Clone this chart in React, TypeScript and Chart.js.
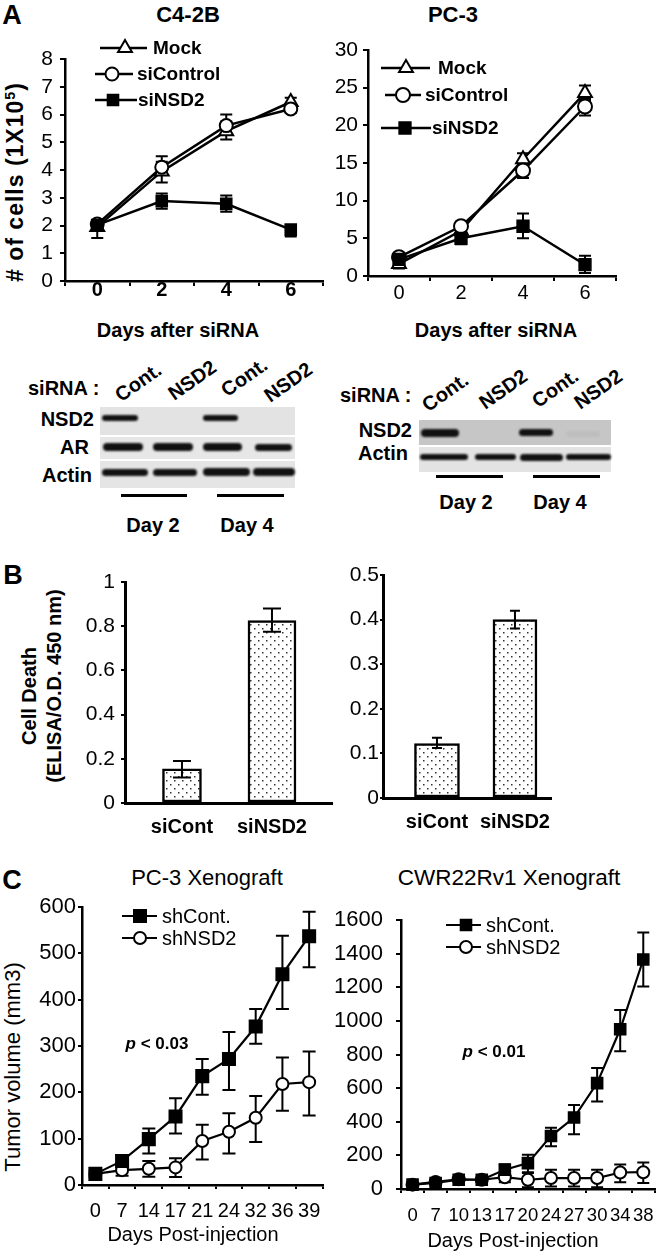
import React, { useEffect, useRef } from 'react';
import { Chart, registerables } from 'chart.js';

Chart.register(...registerables);

const FONT = '"Liberation Sans", Arial, Helvetica, sans-serif';
const BLACK = '#000';

// ================= DATA =================
// Panel A – cell number after siRNA (x 10^5 cells for C4-2B)
const daysA = ['0', '2', '4', '6'];
const c42bMock = [1.95, 3.95, 5.4, 6.45];
const c42bMockErr = [[1.55, 2.2], [3.55, 4.3], [5.1, 5.75], [6.3, 6.6]];
const c42bSiControl = [2.05, 4.1, 5.6, 6.2];
const c42bSiControlErr = [[1.85, 2.2], [3.85, 4.5], [5.3, 6.0], [6.05, 6.35]];
const c42bSiNSD2 = [2.02, 2.88, 2.78, 1.85];
const c42bSiNSD2Err = [[1.85, 2.2], [2.6, 3.15], [2.5, 3.08], [1.6, 2.0]];

const pc3Mock = [1.6, 6.0, 15.5, 24.3];
const pc3MockErr = [[1.0, 2.2], [5.5, 6.5], [14.5, 16.3], [23.3, 25.3]];
const pc3SiControl = [2.5, 6.6, 14.0, 22.5];
const pc3SiControlErr = [[2.0, 3.0], [6.0, 7.2], [13.0, 15.0], [21.3, 23.5]];
const pc3SiNSD2 = [2.2, 5.0, 6.6, 1.5];
const pc3SiNSD2Err = [[1.7, 2.7], [4.2, 5.8], [5.0, 8.3], [0.4, 2.7]];

// Panel B – cell death ELISA
const cellDeathLabels = ['siCont', 'siNSD2'];
const c42bDeath = [0.155, 0.825];
const c42bDeathErr = [[0.115, 0.19], [0.775, 0.88]];
const pc3Death = [0.122, 0.4];
const pc3DeathErr = [[0.112, 0.135], [0.38, 0.42]];

// Panel C – xenograft tumor volume (mm3)
const daysPC3 = ['0', '7', '14', '17', '21', '24', '32', '36', '39'];
const pc3ShCont = [24, 52, 99, 148, 235, 272, 342, 455, 537];
const pc3ShContErr = [[18, 30], [40, 64], [68, 122], [111, 187], [195, 272], [205, 330], [305, 380], [380, 538], [470, 590]];
const pc3ShNSD2 = [24, 32, 35, 38, 95, 115, 145, 218, 222];
const pc3ShNSD2Err = [[18, 30], [20, 45], [18, 52], [17, 58], [55, 130], [68, 155], [93, 192], [160, 275], [150, 288]];

const daysCWR = ['0', '7', '10', '13', '17', '20', '24', '27', '30', '34', '38'];
const cwrShCont = [26, 36, 55, 55, 115, 154, 315, 425, 630, 950, 1365];
const cwrShContErr = [[16, 36], [26, 46], [45, 65], [45, 65], [85, 145], [95, 204], [255, 365], [325, 500], [520, 720], [820, 1065], [1205, 1525]];
const cwrShNSD2 = [26, 42, 58, 55, 70, 55, 65, 65, 65, 98, 100];
const cwrShNSD2Err = [[16, 36], [32, 52], [48, 68], [45, 65], [40, 100], [10, 100], [15, 115], [15, 115], [10, 115], [40, 145], [35, 158]];

// ================= LAYOUT HELPERS =================
type Box = { x: number; y: number; w: number; h: number };
type Area = { l: number; t: number; r: number; b: number };
type LegendPos = { x1: number; x2: number; mx: number; tx: number; y: number };

const plainNumber = (v: any) => String(Math.round(Number(v) * 1000) / 1000);

function drawMarker(ctx: CanvasRenderingContext2D, style: string, x: number, y: number, r: number, fill: string, bw: number) {
  ctx.beginPath();
  if (style === 'circle') {
    ctx.arc(x, y, r, 0, Math.PI * 2);
  } else if (style === 'rect') {
    const s = r * Math.SQRT1_2;
    ctx.rect(x - s, y - s, 2 * s, 2 * s);
  } else if (style === 'triangle') {
    let rad = 0;
    ctx.moveTo(x + Math.sin(rad) * r, y - Math.cos(rad) * r);
    rad += (2 * Math.PI) / 3;
    ctx.lineTo(x + Math.sin(rad) * r, y - Math.cos(rad) * r);
    rad += (2 * Math.PI) / 3;
    ctx.lineTo(x + Math.sin(rad) * r, y - Math.cos(rad) * r);
  }
  ctx.closePath();
  ctx.fillStyle = fill;
  ctx.fill();
  ctx.lineWidth = bw;
  ctx.strokeStyle = BLACK;
  ctx.stroke();
}

function errorBarPlugin(capHalf: number, width: number, above: boolean) {
  const draw = (chart: any) => {
    const ctx = chart.ctx as CanvasRenderingContext2D;
    const ys = chart.scales.y;
    ctx.save();
    ctx.strokeStyle = BLACK;
    ctx.lineWidth = width;
    chart.data.datasets.forEach((ds: any, i: number) => {
      const meta = chart.getDatasetMeta(i);
      (ds.errors || []).forEach((e: number[], j: number) => {
        const el = meta.data[j];
        if (!el || !e) return;
        const x = el.x;
        const y1 = ys.getPixelForValue(e[0]);
        const y2 = ys.getPixelForValue(e[1]);
        ctx.beginPath();
        ctx.moveTo(x, y1);
        ctx.lineTo(x, y2);
        ctx.moveTo(x - capHalf, y1);
        ctx.lineTo(x + capHalf, y1);
        ctx.moveTo(x - capHalf, y2);
        ctx.lineTo(x + capHalf, y2);
        ctx.stroke();
      });
    });
    ctx.restore();
  };
  return above
    ? { id: 'errorBars', afterDatasetsDraw: draw }
    : { id: 'errorBars', beforeDatasetsDraw: draw };
}

function insideLegendPlugin(items: LegendPos[], font: string, ox: number, oy: number) {
  return {
    id: 'insideLegend',
    afterDraw(chart: any) {
      const ctx = chart.ctx as CanvasRenderingContext2D;
      chart.data.datasets.forEach((ds: any, i: number) => {
        const it = items[i];
        if (!it) return;
        const y = it.y - oy;
        ctx.save();
        ctx.strokeStyle = BLACK;
        ctx.lineWidth = ds.borderWidth;
        ctx.beginPath();
        ctx.moveTo(it.x1 - ox, y);
        ctx.lineTo(it.x2 - ox, y);
        ctx.stroke();
        drawMarker(ctx, ds.pointStyle, it.mx - ox, y, ds.pointRadius, ds.pointBackgroundColor, ds.pointBorderWidth);
        ctx.fillStyle = BLACK;
        ctx.font = font;
        ctx.textBaseline = 'middle';
        ctx.textAlign = 'left';
        ctx.fillText(ds.label, it.tx - ox, y + 1);
        ctx.restore();
      });
    },
  };
}

type SeriesSpec = { label: string; data: number[]; err: number[][]; style: string; radius: number; fill: string; order: number };

interface LineSpec {
  canvas: Box;
  area: Area;
  labels: string[];
  series: SeriesSpec[];
  y: { min: number; max: number; step: number };
  yFont: any;
  xFont: any;
  yTick: [number, number];
  xTick: [number, number];
  axisWidth: number;
  lineWidth: number;
  pointBorder: number;
  errWidth: number;
  capHalf: number;
  legend: LegendPos[];
  legendFont: string;
}

function makeLineConfig(p: LineSpec): any {
  const padTop = p.area.t - p.canvas.y;
  const padRight = p.canvas.x + p.canvas.w - p.area.r;
  const yWidth = p.area.l - p.canvas.x;
  const xHeight = p.canvas.y + p.canvas.h - p.area.b;
  return {
    type: 'line',
    data: {
      labels: p.labels,
      datasets: p.series.map((s) => ({
        label: s.label,
        data: s.data,
        errors: s.err,
        borderColor: BLACK,
        borderWidth: p.lineWidth,
        pointStyle: s.style,
        pointRadius: s.radius,
        pointHoverRadius: s.radius,
        pointBackgroundColor: s.fill,
        pointBorderColor: BLACK,
        pointBorderWidth: p.pointBorder,
        tension: 0,
        fill: false,
        order: s.order,
        clip: false,
      })),
    },
    options: {
      responsive: false,
      animation: false,
      events: [],
      layout: { padding: { top: padTop, right: padRight, left: 0, bottom: 0 } },
      plugins: { legend: { display: false }, tooltip: { enabled: false }, title: { display: false } },
      scales: {
        x: {
          type: 'category',
          offset: true,
          grid: { display: true, drawOnChartArea: false, drawTicks: true, offset: true, tickLength: p.xTick[0], color: BLACK, lineWidth: 2 },
          border: { display: true, color: BLACK, width: p.axisWidth },
          ticks: { color: BLACK, font: p.xFont, padding: p.xTick[1], maxRotation: 0, autoSkip: false },
          afterFit: (s: any) => {
            s.height = xHeight;
          },
        },
        y: {
          type: 'linear',
          min: p.y.min,
          max: p.y.max,
          grid: { display: true, drawOnChartArea: false, drawTicks: true, tickLength: p.yTick[0], color: BLACK, lineWidth: 2 },
          border: { display: true, color: BLACK, width: p.axisWidth },
          ticks: { color: BLACK, font: p.yFont, padding: p.yTick[1], stepSize: p.y.step, autoSkip: false, callback: plainNumber },
          afterFit: (s: any) => {
            s.width = yWidth;
          },
        },
      },
    },
    plugins: [errorBarPlugin(p.capHalf, p.errWidth, false), insideLegendPlugin(p.legend, p.legendFont, p.canvas.x, p.canvas.y)],
  };
}

function dotPattern(): CanvasPattern | string {
  const c = document.createElement('canvas');
  c.width = 8;
  c.height = 8;
  const g = c.getContext('2d');
  if (!g) return '#fff';
  g.fillStyle = '#fff';
  g.fillRect(0, 0, 8, 8);
  g.fillStyle = '#333';
  g.fillRect(2, 2, 1.5, 1.5);
  g.fillRect(6, 6, 1.5, 1.5);
  return g.createPattern(c, 'repeat') || '#fff';
}

interface BarSpec {
  canvas: Box;
  area: Area;
  labels: string[];
  values: number[];
  err: number[][];
  thickness: number[];
  xRange: [number, number];
  y: { min: number; max: number; step: number };
  yFont: any;
  xFont: any;
  yTick: [number, number];
  xPad: number;
  capHalf: number;
}

function makeBarConfig(p: BarSpec): any {
  const padTop = p.area.t - p.canvas.y;
  const padRight = p.canvas.x + p.canvas.w - p.area.r;
  const yWidth = p.area.l - p.canvas.x;
  const xHeight = p.canvas.y + p.canvas.h - p.area.b;
  const pattern = dotPattern();
  return {
    type: 'bar',
    data: {
      datasets: p.values.map((v, i) => ({
        label: p.labels[i],
        data: [{ x: i, y: v }],
        errors: [p.err[i]],
        barThickness: p.thickness[i],
        grouped: false,
        backgroundColor: pattern,
        borderColor: BLACK,
        borderWidth: 2.5,
        borderSkipped: false,
      })),
    },
    options: {
      responsive: false,
      animation: false,
      events: [],
      layout: { padding: { top: padTop, right: padRight, left: 0, bottom: 0 } },
      plugins: { legend: { display: false }, tooltip: { enabled: false }, title: { display: false } },
      scales: {
        x: {
          type: 'linear',
          offset: false,
          min: p.xRange[0],
          max: p.xRange[1],
          grid: { display: false, drawTicks: false, offset: false },
          border: { display: true, color: BLACK, width: 3 },
          ticks: {
            color: BLACK,
            font: p.xFont,
            padding: p.xPad,
            autoSkip: false,
            callback: (v: any) => p.labels[Math.round(Number(v))] ?? '',
          },
          afterBuildTicks: (s: any) => {
            s.ticks = p.labels.map((_, i) => ({ value: i }));
          },
          afterFit: (s: any) => {
            s.height = xHeight;
          },
        },
        y: {
          type: 'linear',
          min: p.y.min,
          max: p.y.max,
          grid: { display: true, drawOnChartArea: false, drawTicks: true, tickLength: p.yTick[0], color: BLACK, lineWidth: 2 },
          border: { display: true, color: BLACK, width: 3 },
          ticks: { color: BLACK, font: p.yFont, padding: p.yTick[1], stepSize: p.y.step, autoSkip: false, callback: plainNumber },
          afterFit: (s: any) => {
            s.width = yWidth;
          },
        },
      },
    },
    plugins: [errorBarPlugin(p.capHalf, 2, true)],
  };
}

function ChartCanvas({ box, make }: { box: Box; make: () => any }) {
  const ref = useRef<HTMLCanvasElement>(null);
  useEffect(() => {
    if (!ref.current) return;
    const chart = new Chart(ref.current, make());
    return () => chart.destroy();
  }, []);
  return (
    <canvas
      ref={ref}
      width={box.w}
      height={box.h}
      style={{ position: 'absolute', left: box.x, top: box.y, width: box.w, height: box.h }}
    />
  );
}

function Txt(props: {
  x: number;
  y: number;
  size: number;
  bold?: boolean;
  italic?: boolean;
  rot?: number;
  anchor?: 'center' | 'left' | 'right';
  spacing?: number;
  children: React.ReactNode;
}) {
  const { x, y, size, bold, italic, rot = 0, anchor = 'center', spacing = 0, children } = props;
  const tx = anchor === 'center' ? '-50%' : anchor === 'left' ? '0%' : '-100%';
  return (
    <div
      style={{
        position: 'absolute',
        left: x,
        top: y,
        transform: `translate(${tx}, -50%) rotate(${rot}deg)`,
        fontFamily: FONT,
        fontSize: size,
        fontWeight: bold ? 'bold' : 'normal',
        fontStyle: italic ? 'italic' : 'normal',
        letterSpacing: spacing,
        lineHeight: 1,
        whiteSpace: 'nowrap',
        color: BLACK,
      }}
    >
      {children}
    </div>
  );
}

// Western blot rendering (image-like, not chart data)
type Strip = { y: number; h: number; bg: string };
type Band = { x1: number; x2: number; y: number; h: number; a?: number };
const blotLeft = {
  x1: 100,
  x2: 295,
  strips: [
    { y: 407, h: 28, bg: '#e3e3e3' },
    { y: 437, h: 22, bg: '#e7e7e7' },
    { y: 461, h: 27, bg: '#e5e5e5' },
  ] as Strip[],
  bands: [
    { x1: 102, x2: 138, y: 418, h: 6 },
    { x1: 203, x2: 238, y: 418, h: 6 },
    { x1: 103, x2: 143, y: 447, h: 8 },
    { x1: 153, x2: 193, y: 447, h: 8 },
    { x1: 203, x2: 242, y: 447, h: 8 },
    { x1: 255, x2: 292, y: 447, h: 7 },
    { x1: 102, x2: 148, y: 472, h: 7 },
    { x1: 153, x2: 197, y: 472, h: 7 },
    { x1: 203, x2: 250, y: 472, h: 8 },
    { x1: 253, x2: 295, y: 472, h: 8 },
  ] as Band[],
  lines: [
    { x1: 121, x2: 187, y: 495 },
    { x1: 217, x2: 284, y: 495 },
  ],
};
const blotRight = {
  x1: 419,
  x2: 611,
  strips: [
    { y: 420, h: 25, bg: '#c6c6c6' },
    { y: 447, h: 25, bg: '#e3e3e3' },
  ] as Strip[],
  bands: [
    { x1: 421, x2: 459, y: 433, h: 8 },
    { x1: 519, x2: 553, y: 432, h: 7 },
    { x1: 566, x2: 600, y: 434, h: 6, a: 0.04 },
    { x1: 420, x2: 468, y: 457, h: 6 },
    { x1: 475, x2: 516, y: 457, h: 6 },
    { x1: 520, x2: 563, y: 457, h: 7 },
    { x1: 566, x2: 611, y: 457, h: 6 },
  ] as Band[],
  lines: [
    { x1: 436, x2: 503, y: 476 },
    { x1: 533, x2: 600, y: 476 },
  ],
};

function Blot({ b }: { b: typeof blotLeft }) {
  return (
    <>
      {b.strips.map((s, i) => (
        <div key={'s' + i} style={{ position: 'absolute', left: b.x1, top: s.y, width: b.x2 - b.x1, height: s.h, background: s.bg }} />
      ))}
      {b.bands.map((d, i) => (
        <div
          key={'b' + i}
          style={{
            position: 'absolute',
            left: d.x1,
            top: d.y - d.h / 2,
            width: d.x2 - d.x1,
            height: d.h,
            background: '#111',
            opacity: d.a ?? 1,
            borderRadius: d.h / 2,
            filter: 'blur(0.8px)',
          }}
        />
      ))}
      {b.lines.map((l, i) => (
        <div key={'l' + i} style={{ position: 'absolute', left: l.x1, top: l.y - 1.5, width: l.x2 - l.x1, height: 3, background: BLACK }} />
      ))}
    </>
  );
}

// ================= CHART SPECS =================
const fontA_y = { family: FONT, size: 21 };
const fontA_x = { family: FONT, size: 20, weight: 'bold' as const };
const legendFontA = `bold 19px ${FONT}`;

const specA1: LineSpec = {
  canvas: { x: 0, y: 0, w: 333, h: 310 },
  area: { l: 65, t: 59, r: 323, b: 281 },
  labels: daysA,
  series: [
    { label: 'Mock', data: c42bMock, err: c42bMockErr, style: 'triangle', radius: 8, fill: '#fff', order: 3 },
    { label: 'siControl', data: c42bSiControl, err: c42bSiControlErr, style: 'circle', radius: 6.5, fill: '#fff', order: 2 },
    { label: 'siNSD2', data: c42bSiNSD2, err: c42bSiNSD2Err, style: 'rect', radius: 7.5, fill: '#000', order: 1 },
  ],
  y: { min: 0, max: 8, step: 1 },
  yFont: fontA_y,
  xFont: fontA_x,
  yTick: [5, 7],
  xTick: [5, -8],
  axisWidth: 2.5,
  lineWidth: 2.5,
  pointBorder: 2,
  errWidth: 2,
  capHalf: 6,
  legend: [
    { x1: 100, x2: 147, mx: 125, tx: 153, y: 48 },
    { x1: 95, x2: 133, mx: 112, tx: 137, y: 74 },
    { x1: 95, x2: 137, mx: 113, tx: 138, y: 100 },
  ],
  legendFont: legendFontA,
};

const specA2: LineSpec = {
  canvas: { x: 333, y: 0, w: 333, h: 310 },
  area: { l: 368, t: 50, r: 616, b: 276 },
  labels: daysA,
  series: [
    { label: 'Mock', data: pc3Mock, err: pc3MockErr, style: 'triangle', radius: 8, fill: '#fff', order: 3 },
    { label: 'siControl', data: pc3SiControl, err: pc3SiControlErr, style: 'circle', radius: 7, fill: '#fff', order: 2 },
    { label: 'siNSD2', data: pc3SiNSD2, err: pc3SiNSD2Err, style: 'rect', radius: 8, fill: '#000', order: 1 },
  ],
  y: { min: 0, max: 30, step: 5 },
  yFont: fontA_y,
  xFont: { family: FONT, size: 20 },
  yTick: [5, 5],
  xTick: [5, 0],
  axisWidth: 2.5,
  lineWidth: 2.5,
  pointBorder: 2,
  errWidth: 2,
  capHalf: 6,
  legend: [
    { x1: 381, x2: 430, mx: 406, tx: 438, y: 68 },
    { x1: 385, x2: 421, mx: 403, tx: 425, y: 95 },
    { x1: 381, x2: 431, mx: 405, tx: 432, y: 128 },
  ],
  legendFont: legendFontA,
};

const specB1: BarSpec = {
  canvas: { x: 0, y: 550, w: 333, h: 290 },
  area: { l: 125, t: 582, r: 333, b: 803 },
  labels: cellDeathLabels,
  values: c42bDeath,
  err: c42bDeathErr,
  thickness: [39, 48],
  xRange: [-0.633, 1.678],
  y: { min: 0, max: 1, step: 0.2 },
  yFont: { family: FONT, size: 21 },
  xFont: { family: FONT, size: 20, weight: 'bold' as const },
  yTick: [4, 6],
  xPad: 12,
  capHalf: 9,
};

const specB2: BarSpec = {
  canvas: { x: 333, y: 550, w: 333, h: 290 },
  area: { l: 383, t: 575, r: 551, b: 798 },
  labels: cellDeathLabels,
  values: pc3Death,
  err: pc3DeathErr,
  thickness: [45, 44],
  xRange: [-0.692, 1.462],
  y: { min: 0, max: 0.5, step: 0.1 },
  yFont: { family: FONT, size: 21 },
  xFont: { family: FONT, size: 20, weight: 'bold' as const },
  yTick: [3, 1],
  xPad: 12,
  capHalf: 5,
};

const legendFontC = `20px ${FONT}`;

const specC1: LineSpec = {
  canvas: { x: 0, y: 880, w: 333, h: 372 },
  area: { l: 82, t: 907, r: 325, b: 1185 },
  labels: daysPC3,
  series: [
    { label: 'shCont.', data: pc3ShCont, err: pc3ShContErr, style: 'rect', radius: 8.5, fill: '#000', order: 1 },
    { label: 'shNSD2', data: pc3ShNSD2, err: pc3ShNSD2Err, style: 'circle', radius: 6, fill: '#fff', order: 2 },
  ],
  y: { min: 0, max: 600, step: 100 },
  yFont: { family: FONT, size: 22 },
  xFont: { family: FONT, size: 20 },
  yTick: [4, 2],
  xTick: [4, 10],
  axisWidth: 2.5,
  lineWidth: 2.2,
  pointBorder: 2,
  errWidth: 2,
  capHalf: 6.5,
  legend: [
    { x1: 122, x2: 157, mx: 140, tx: 162, y: 916 },
    { x1: 122, x2: 157, mx: 140, tx: 162, y: 938 },
  ],
  legendFont: legendFontC,
};

const specC2: LineSpec = {
  canvas: { x: 333, y: 880, w: 333, h: 372 },
  area: { l: 401, t: 920, r: 663, b: 1189 },
  labels: daysCWR,
  series: [
    { label: 'shCont.', data: cwrShCont, err: cwrShContErr, style: 'rect', radius: 7.5, fill: '#000', order: 1 },
    { label: 'shNSD2', data: cwrShNSD2, err: cwrShNSD2Err, style: 'circle', radius: 6, fill: '#fff', order: 2 },
  ],
  y: { min: 0, max: 1600, step: 200 },
  yFont: { family: FONT, size: 22 },
  xFont: { family: FONT, size: 18.5 },
  yTick: [5, 13],
  xTick: [4, 12],
  axisWidth: 2.5,
  lineWidth: 2.2,
  pointBorder: 2,
  errWidth: 2,
  capHalf: 6,
  legend: [
    { x1: 446, x2: 481, mx: 466, tx: 486, y: 925 },
    { x1: 446, x2: 481, mx: 466, tx: 486, y: 947 },
  ],
  legendFont: legendFontC,
};

export default function App() {
  return (
    <div style={{ position: 'absolute', left: 0, top: 0, width: 666, height: 1252, background: '#fff', overflow: 'hidden' }}>
      {/* Panel A */}
      <Txt x={12} y={15} size={27} bold>A</Txt>
      <Txt x={188} y={15} size={22} bold>C4-2B</Txt>
      <Txt x={453} y={15} size={22} bold>PC-3</Txt>
      <Txt x={15} y={182} size={23} bold rot={-90} spacing={1}>
        # of cells (1X10<span style={{ fontSize: '0.62em', verticalAlign: '0.6em' }}>5</span>)
      </Txt>
      <ChartCanvas box={specA1.canvas} make={() => makeLineConfig(specA1)} />
      <ChartCanvas box={specA2.canvas} make={() => makeLineConfig(specA2)} />
      <Txt x={178} y={330} size={20} bold>Days after siRNA</Txt>
      <Txt x={496} y={330} size={20} bold>Days after siRNA</Txt>

      {/* Western blots */}
      <Blot b={blotLeft} />
      <Blot b={blotRight} />
      <Txt x={28} y={388} size={20} bold anchor="left">siRNA :</Txt>
      <Txt x={138} y={382} size={20} bold rot={-35}>Cont.</Txt>
      <Txt x={192} y={380} size={20} bold rot={-35}>NSD2</Txt>
      <Txt x={244} y={377} size={20} bold rot={-35}>Cont.</Txt>
      <Txt x={288} y={382} size={20} bold rot={-35}>NSD2</Txt>
      <Txt x={94} y={419} size={20} bold anchor="right">NSD2</Txt>
      <Txt x={89} y={447} size={20} bold anchor="right">AR</Txt>
      <Txt x={92} y={475} size={20} bold anchor="right">Actin</Txt>
      <Txt x={153} y={525} size={20} bold>Day 2</Txt>
      <Txt x={247} y={525} size={20} bold>Day 4</Txt>

      <Txt x={340} y={395} size={20} bold anchor="left">siRNA :</Txt>
      <Txt x={445} y={392} size={20} bold rot={-35}>Cont.</Txt>
      <Txt x={503} y={389} size={20} bold rot={-35}>NSD2</Txt>
      <Txt x={555} y={388} size={20} bold rot={-35}>Cont.</Txt>
      <Txt x={598} y={389} size={20} bold rot={-35}>NSD2</Txt>
      <Txt x={412} y={430} size={20} bold anchor="right">NSD2</Txt>
      <Txt x={408} y={453} size={20} bold anchor="right">Actin</Txt>
      <Txt x={466} y={502} size={20} bold>Day 2</Txt>
      <Txt x={560} y={502} size={20} bold>Day 4</Txt>

      {/* Panel B */}
      <Txt x={13} y={575} size={27} bold>B</Txt>
      <Txt x={29} y={696} size={20} bold rot={-90}>Cell Death</Txt>
      <Txt x={54} y={686} size={20} bold rot={-90}>(ELISA/O.D. 450 nm)</Txt>
      <ChartCanvas box={specB1.canvas} make={() => makeBarConfig(specB1)} />
      <ChartCanvas box={specB2.canvas} make={() => makeBarConfig(specB2)} />

      {/* Panel C */}
      <Txt x={12} y={880} size={27} bold>C</Txt>
      <Txt x={207} y={878} size={22}>PC-3 Xenograft</Txt>
      <Txt x={509} y={878} size={22.5}>CWR22Rv1 Xenograft</Txt>
      <Txt x={13} y={1067} size={22} rot={-90}>Tumor volume (mm3)</Txt>
      <ChartCanvas box={specC1.canvas} make={() => makeLineConfig(specC1)} />
      <ChartCanvas box={specC2.canvas} make={() => makeLineConfig(specC2)} />
      <Txt x={157} y={1043} size={17} bold>
        <i>p</i> &lt; 0.03
      </Txt>
      <Txt x={494} y={1051} size={17} bold>
        <i>p</i> &lt; 0.01
      </Txt>
      <Txt x={193} y={1234} size={20}>Days Post-injection</Txt>
      <Txt x={513} y={1240} size={20}>Days Post-injection</Txt>
    </div>
  );
}
